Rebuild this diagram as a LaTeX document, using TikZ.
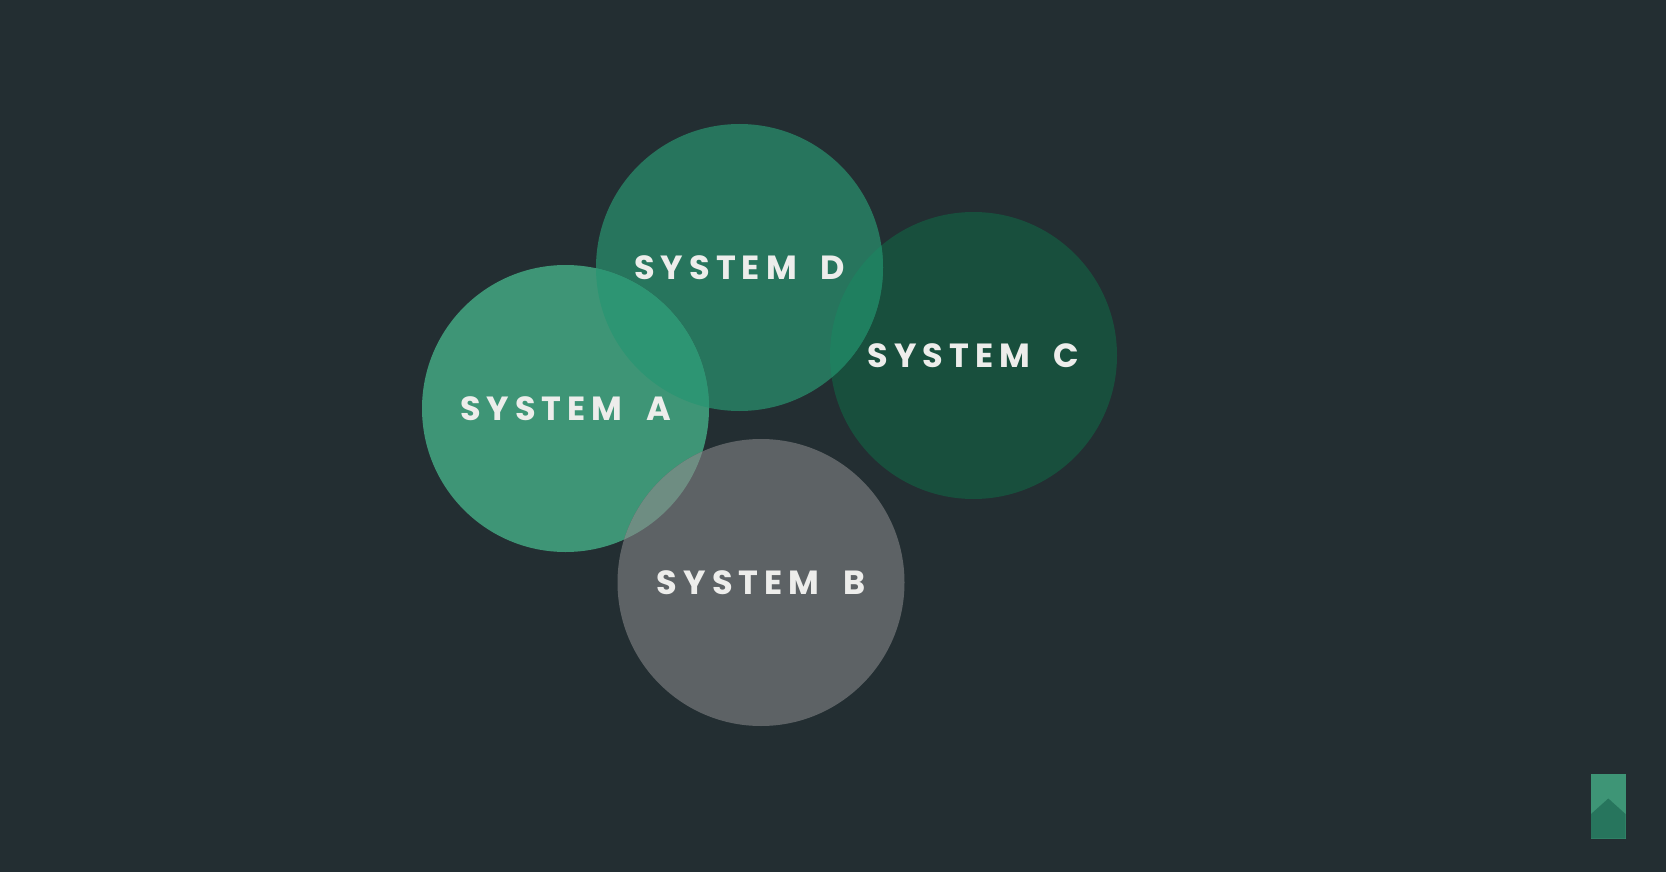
\documentclass[tikz,border=0pt]{standalone}
\usepackage{fontspec}
\newfontfamily\labfont[LetterSpace=18,WordSpace=1.8]{Poppins}
\definecolor{bgc}{HTML}{232E32}
\definecolor{ca}{HTML}{3E9576}
\definecolor{cd}{HTML}{27755D}
\definecolor{cc}{HTML}{184F3D}
\definecolor{cb}{HTML}{5D6265}
\definecolor{cad}{HTML}{2D9573}
\definecolor{cdc}{HTML}{1F7F5F}
\definecolor{cab}{HTML}{6E8D82}
\definecolor{txt}{HTML}{EDEDEB}
\definecolor{mk}{HTML}{3E9576}
\definecolor{mkd}{HTML}{27755D}
\tikzset{
  x=1pt,y=-1pt,
  disc/.style={circle,minimum size=287pt,inner sep=0pt,outer sep=0pt,fill=#1},
  lab/.style={text=txt,font=\labfont\bfseries\fontsize{33.5}{36}\selectfont,inner sep=0pt}
}
\begin{document}
\begin{tikzpicture}
\fill[bgc] (0,0) rectangle (1666,872);
\useasboundingbox (0,0) rectangle (1666,872);
\node[disc=cc] (c) at (973.5,355.5) {};
\node[disc=cd] (d) at (739.5,267.5) {};
\node[disc=ca] (a) at (565.5,408.5) {};
\node[disc=cb] (b) at (761,582.5) {};
\begin{scope}
\clip (739.5,267.5) circle[radius=143.5];
\fill[cdc] (973.5,355.5) circle[radius=143.5];
\fill[cad] (565.5,408.5) circle[radius=143.5];
\end{scope}
\begin{scope}
\clip (761,582.5) circle[radius=143.5];
\fill[cab] (565.5,408.5) circle[radius=143.5];
\end{scope}
\node[lab] (la) at (565.5,409) {SYSTEM A};
\node[lab] (lb) at (761,583) {SYSTEM B};
\node[lab] (lc) at (973.5,356) {SYSTEM C};
\node[lab] (ld) at (739.5,268) {SYSTEM D};
\fill[mk] (1591,773.5) rectangle (1625.5,838.5);
\fill[mkd] (1591,814) -- (1608.3,798.5) -- (1625.5,814) -- (1625.5,838.5) -- (1591,838.5) -- cycle;
\end{tikzpicture}
\end{document}
